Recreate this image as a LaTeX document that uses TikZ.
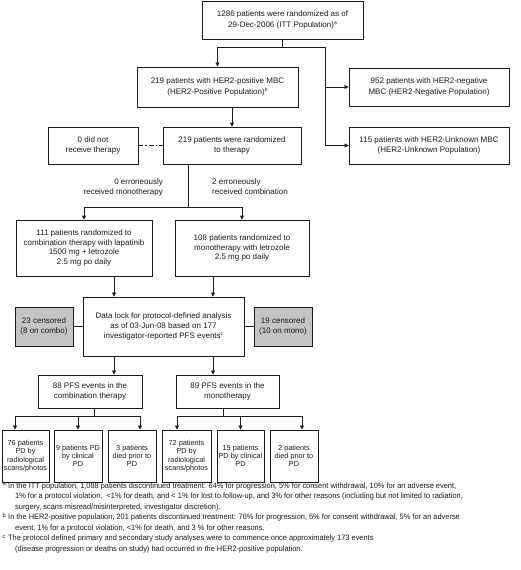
\documentclass[tikz,border=0pt]{standalone}
\usepackage{fontspec}
\setmainfont{Liberation Sans}
\newfontfamily\fnfont{Liberation Sans}[FakeStretch=0.95]
\usetikzlibrary{arrows.meta,calc}
\definecolor{censgray}{HTML}{C4C4C4}
\definecolor{ink}{HTML}{1A1A1A}
\newcommand{\supl}[1]{\raisebox{0.55ex}{\fontsize{5}{5}\selectfont #1}}
\begin{document}
\begin{tikzpicture}[x=1pt,y=-1pt,
  bx/.style={draw=ink, line width=0.9pt, align=center, inner sep=1pt, text=ink,
             font=\fontsize{8}{10.5}\selectfont},
  cbx/.style={bx, font=\fontsize{8}{9.6}\selectfont},
  sbx/.style={bx, font=\fontsize{7.3}{8.3}\selectfont},
  cens/.style={bx, fill=censgray},
  conn/.style={draw=ink, line width=0.75pt},
  arr/.style={conn, -{Triangle[width=4pt,length=4pt]}},
  lbl/.style={inner sep=0pt, text=ink, font=\fontsize{8}{10}\selectfont},
  fn/.style={anchor=base west, inner sep=0pt, text=ink, font=\fnfont\fontsize{7.8}{10}\selectfont},
  fnm/.style={anchor=base west, inner sep=0pt, text=ink, font=\fnfont\fontsize{6}{6}\selectfont}]
\useasboundingbox (0,0) rectangle (520,570);
\fill[white] (0,0) rectangle (520,570);

% boxes
\node[bx, minimum width=161pt, minimum height=38pt] (top) at (282.5,20)
  {1286 patients were randomized as of\\29-Dec-2006 (ITT Population)\supl{a}};
\node[bx, minimum width=161pt, minimum height=40pt] (pos) at (217.5,87)
  {219 patients with HER2-positive MBC\\(HER2-Positive Population)\supl{b}};
\node[bx, minimum width=160pt, minimum height=38pt] (neg) at (429,87)
  {952 patients with HER2-negative\\MBC (HER2-Negative Population)};
\node[bx, minimum width=138pt, minimum height=37pt] (rand) at (232,145.5)
  {219 patients were randomized\\to therapy};
\node[bx, minimum width=90pt, minimum height=37pt] (none) at (93,145.5)
  {0 did not\\receive therapy};
\node[bx, minimum width=160pt, minimum height=37pt] (unk) at (429,145.5)
  {115 patients with HER2-Unknown MBC\\(HER2-Unknown Population)};
\node[cbx, minimum width=136pt, minimum height=56pt] (combo) at (84,248)
  {111 patients randomized to\\combination therapy with lapatinib\\1500 mg + letrozole\\2.5 mg po daily};
\node[cbx, minimum width=134pt, minimum height=56pt] (mono) at (242,248)
  {108 patients randomized to\\monotherapy with letrozole\\2.5 mg po daily};
\node[cbx, minimum width=161pt, minimum height=59pt] (dl) at (163.5,326.5)
  {Data lock for protocol-defined analysis\\as of 03-Jun-08 based on 177\\investigator-reported PFS events\supl{c}};
\node[cens, minimum width=58pt, minimum height=39pt] (cL) at (44,326.5)
  {23 censored\\(8 on combo)};
\node[cens, minimum width=58pt, minimum height=39pt] (cR) at (283,326.5)
  {19 censored\\(10 on mono)};
\node[bx, minimum width=104pt, minimum height=33pt] (pfsC) at (90,391.5)
  {88 PFS events in the\\combination therapy};
\node[bx, minimum width=103pt, minimum height=33pt] (pfsM) at (227.5,391.5)
  {89 PFS events in the\\monotherapy};
\node[sbx, minimum width=47pt, minimum height=52pt] (e1) at (25.5,456)
  {76 patients\\PD by\\radiological\\scans/photos};
\node[sbx, minimum width=48pt, minimum height=52pt] (e2) at (78,456)
  {9 patients PD\\by clinical\\PD};
\node[sbx, minimum width=48pt, minimum height=52pt] (e3) at (132,456)
  {3 patients\\died prior to\\PD};
\node[sbx, minimum width=49pt, minimum height=52pt] (e4) at (186.5,456)
  {72 patients\\PD by\\radiological\\scans/photos};
\node[sbx, minimum width=47pt, minimum height=52pt] (e5) at (240.5,456)
  {15 patients\\PD by clinical\\PD};
\node[sbx, minimum width=48pt, minimum height=52pt] (e6) at (294,456)
  {2 patients\\died prior to\\PD};

% labels
\node[lbl, anchor=east, align=right] (lm) at (163,187)
  {0 erroneously\\received monotherapy};
\node[lbl, anchor=west, align=left] (lc) at (212,187)
  {2 erroneously\\received combination};

% connectors
\coordinate (j1) at (282.5,47.5);
\coordinate (vx) at (325,47.5);
\draw[conn] (top.south) -- (j1);
\draw[arr] (j1) -| (pos.north);
\draw[arr] (j1) -- (vx) |- (unk.west);
\draw[arr] (vx |- neg.west) -- (neg.west);
\draw[arr] (pos.south -| rand.north) -- (rand.north);
\draw[conn, dash pattern=on 5pt off 2pt on 1.5pt off 2pt] (none.east) -- (rand.west);

\coordinate (j3) at (188,207.5);
\draw[conn] (rand.south -| j3) -- (j3);
\draw[arr] (j3) -| (combo.north);
\draw[arr] (j3) -| (mono.north);

\coordinate (dlLn) at ([xshift=-49.5pt]dl.north);
\coordinate (dlRn) at ([xshift=49.5pt]dl.north);
\draw[arr] (combo.south -| dlLn) -- (dlLn);
\draw[arr] (mono.south -| dlRn) -- (dlRn);
\draw[conn] (cL.east) -- (cL.east -| dl.west);
\draw[conn] (cR.west) -- (cR.west -| dl.east);

\coordinate (dlLs) at ([xshift=-49.5pt]dl.south);
\coordinate (dlRs) at ([xshift=49.5pt]dl.south);
\draw[arr] (dlLs) -- (dlLs |- pfsC.north);
\draw[arr] (dlRs) -- (dlRs |- pfsM.north);

\coordinate (jC) at (94,416);
\draw[conn] (jC |- pfsC.south) -- (jC);
\draw[arr] (jC) -| ([xshift=-10.5pt]e1.north);
\draw[arr] (jC) -| (e2.north);
\draw[arr] (jC) -| ([xshift=8pt]e3.north);
\coordinate (jM) at (223,416);
\draw[conn] (jM |- pfsM.south) -- (jM);
\draw[arr] (jM) -| ([xshift=-9.5pt]e4.north);
\draw[arr] (jM) -| (e5.north);
\draw[arr] (jM) -| ([xshift=8pt]e6.north);

% footnotes
\node[fnm] (ma) at (2.5,485.5) {a};
\node[fn] (fa1) at (8,488) {In the ITT population, 1,088 patients discontinued treatment: 64\% for progression, 5\% for consent withdrawal, 10\% for an adverse event,};
\node[fn] (fa2) at (15,498.5) {1\% for a protocol violation,\ \ <1\% for death, and < 1\% for lost to follow-up, and 3\% for other reasons (including but not limited to radiation,};
\node[fn] (fa3) at (15,509) {surgery, scans misread/misinterpreted, investigator discretion).};
\node[fnm] (mb) at (2.5,517) {b};
\node[fn] (fb1) at (8,519.5) {In the HER2-positive population, 201 patients discontinued treatment: 76\% for progression, 6\% for consent withdrawal, 5\% for an adverse};
\node[fn] (fb2) at (15,530) {event, 1\% for a protocol violation, <1\% for death, and 3 \% for other reasons.};
\node[fnm] (mc) at (2.5,538) {c};
\node[fn] (fc1) at (8,540.5) {The protocol defined primary and secondary study analyses were to commence once approximately 173 events};
\node[fn] (fc2) at (15,551) {(disease progression or deaths on study) had occurred in the HER2-positive population.};
\end{tikzpicture}
\end{document}
